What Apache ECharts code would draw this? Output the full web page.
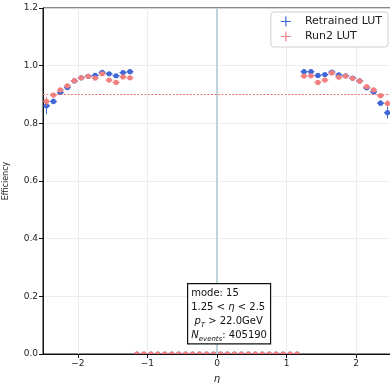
<!DOCTYPE html>
<html>
<head>
<meta charset="utf-8">
<script src="https://cdn.jsdelivr.net/npm/echarts@6/dist/echarts.min.js"></script>
<style>
  html, body { margin: 0; padding: 0; background: #fff; }
  #chart { width: 390px; height: 383px; }
</style>
</head>
<body>
<div id="chart"></div>
<script>
// eta bin centres (bin width 0.1)
const etaBins = [
  -2.45, -2.35, -2.25, -2.15, -2.05, -1.95, -1.85, -1.75, -1.65, -1.55, -1.45, -1.35, -1.25,
  -1.15, -1.05, -0.95, -0.85, -0.75, -0.65, -0.55, -0.45, -0.35, -0.25, -0.15, -0.05,
  0.05, 0.15, 0.25, 0.35, 0.45, 0.55, 0.65, 0.75, 0.85, 0.95, 1.05, 1.15,
  1.25, 1.35, 1.45, 1.55, 1.65, 1.75, 1.85, 1.95, 2.05, 2.15, 2.25, 2.35, 2.45
];
const retrainedEff = [
  0.861, 0.876, 0.907, 0.924, 0.947, 0.958, 0.963, 0.966, 0.977, 0.972, 0.965, 0.976, 0.979,
  0, 0, 0, 0, 0, 0, 0, 0, 0, 0, 0, 0,
  0, 0, 0, 0, 0, 0, 0, 0, 0, 0, 0, 0,
  0.979, 0.979, 0.966, 0.969, 0.978, 0.968, 0.965, 0.957, 0.947, 0.923, 0.909, 0.870, 0.837
];
const retrainedErr = [
  0.03, 0.01, 0.008, 0.006, 0.005, 0.005, 0.005, 0.005, 0.005, 0.005, 0.005, 0.005, 0.005,
  0, 0, 0, 0, 0, 0, 0, 0, 0, 0, 0, 0,
  0, 0, 0, 0, 0, 0, 0, 0, 0, 0, 0, 0,
  0.005, 0.005, 0.005, 0.005, 0.005, 0.005, 0.005, 0.005, 0.005, 0.006, 0.008, 0.01, 0.02
];
const run2Eff = [
  0.876, 0.898, 0.916, 0.930, 0.948, 0.958, 0.963, 0.957, 0.972, 0.950, 0.942, 0.961, 0.958,
  0, 0, 0, 0, 0, 0, 0, 0, 0, 0, 0, 0,
  0, 0, 0, 0, 0, 0, 0, 0, 0, 0, 0, 0,
  0.964, 0.965, 0.942, 0.950, 0.975, 0.960, 0.964, 0.956, 0.947, 0.927, 0.916, 0.896, 0.869
];
const run2Err = [
  0.015, 0.008, 0.006, 0.005, 0.005, 0.005, 0.005, 0.005, 0.005, 0.005, 0.005, 0.005, 0.005,
  0, 0, 0, 0, 0, 0, 0, 0, 0, 0, 0, 0,
  0, 0, 0, 0, 0, 0, 0, 0, 0, 0, 0, 0,
  0.005, 0.005, 0.005, 0.005, 0.005, 0.005, 0.005, 0.005, 0.005, 0.006, 0.006, 0.008, 0.012
];
const xTicks = [-2, -1, 0, 1, 2];
const targetEff = 0.9;
const etaZero = 0;
const binHalfWidth = 0.05;

const BLUE = "#3f67d6";
const RED = "#f08080";

const chart = echarts.init(document.getElementById("chart"));

function toRows(eff, err) {
  return etaBins.map((eta, i) => [eta, eff[i], err[i]]);
}

// marker + error bars, clipped to the plot area like matplotlib does
function errorBar(color) {
  return function (params, api) {
    const x = api.value(0), y = api.value(1), e = api.value(2);
    const c = api.coord([x, y]);
    const l = api.coord([x - binHalfWidth, y]);
    const r = api.coord([x + binHalfWidth, y]);
    const lo = api.coord([x, y - e]);
    const hi = api.coord([x, y + e]);
    const cs = params.coordSys;
    return {
      type: "group",
      clipPath: { type: "rect", shape: { x: cs.x, y: cs.y, width: cs.width, height: cs.height } },
      children: [
        { type: "line", shape: { x1: l[0], y1: l[1], x2: r[0], y2: r[1] }, style: { stroke: color, lineWidth: 1.3 } },
        { type: "line", shape: { x1: lo[0], y1: lo[1], x2: hi[0], y2: hi[1] }, style: { stroke: color, lineWidth: 1 } },
        { type: "circle", shape: { cx: c[0], cy: c[1], r: 2.6 }, style: { fill: color } },
      ],
    };
  };
}

const plusIcon = "path://M4.4,0 L5.6,0 L5.6,4.4 L10,4.4 L10,5.6 L5.6,5.6 L5.6,10 L4.4,10 L4.4,5.6 L0,5.6 L0,4.4 L4.4,4.4 Z";
const font = "DejaVu Sans";

const option = {
  animation: false,
  textStyle: { fontFamily: font },
  grid: {
    left: 43, right: -1, top: 8, bottom: 29,
    outerBoundsMode: "none",
    containLabel: false,
    show: true, borderColor: "#111", borderWidth: 1,
  },
  legend: {
    orient: "vertical",
    right: 2,
    top: 12,
    padding: [4, 6, 5, 10],
    itemGap: 4,
    itemWidth: 10,
    itemHeight: 10,
    backgroundColor: "#fff",
    borderColor: "#cfcfcf",
    borderWidth: 1,
    borderRadius: 3,
    textStyle: { fontSize: 11, color: "#222", fontFamily: font, padding: [0, 0, 0, 9] },
    data: [
      { name: "Retrained LUT", icon: plusIcon, itemStyle: { color: BLUE } },
      { name: "Run2 LUT", icon: plusIcon, itemStyle: { color: RED } },
    ],
  },
  xAxis: {
    type: "value",
    min: -2.5,
    max: 2.5,
    name: "η",
    nameLocation: "middle",
    nameGap: 20,
    nameTextStyle: { fontSize: 10, fontStyle: "italic", color: "#222" },
    axisLine: { onZero: false, lineStyle: { color: "#111", width: 1 } },
    axisTick: { show: true, length: 4, customValues: xTicks, lineStyle: { color: "#111" } },
    axisLabel: {
      customValues: xTicks,
      fontSize: 9,
      color: "#222",
      margin: 5,
      formatter: (v) => (v < 0 ? "\u2212" + Math.abs(v) : String(v)),
    },
    splitLine: { show: true, lineStyle: { color: "#e8e8e8", width: 0.8 } },
  },
  yAxis: {
    type: "value",
    min: 0,
    max: 1.2,
    interval: 0.2,
    name: "Efficiency",
    nameLocation: "middle",
    nameGap: 33,
    nameTextStyle: { fontSize: 8, color: "#222" },
    axisLine: { show: true, onZero: false, lineStyle: { color: "#111", width: 1 } },
    axisTick: { show: true, length: 4, lineStyle: { color: "#111" } },
    axisLabel: { fontSize: 9, color: "#222", margin: 5, formatter: (v) => v.toFixed(1) },
    splitLine: { show: true, lineStyle: { color: "#e8e8e8", width: 0.8 } },
  },
  series: [
    {
      name: "Retrained LUT",
      type: "custom",
      renderItem: errorBar(BLUE),
      data: toRows(retrainedEff, retrainedErr),
      z: 3,
      markLine: {
        silent: true,
        symbol: "none",
        label: { show: false },
        data: [{ xAxis: etaZero }],
        lineStyle: { color: "#b8d0da", width: 1.8, type: "solid", opacity: 1 },
      },
    },
    {
      name: "Run2 LUT",
      type: "custom",
      renderItem: errorBar(RED),
      data: toRows(run2Eff, run2Err),
      z: 4,
      markLine: {
        silent: true,
        symbol: "none",
        label: { show: false },
        data: [{ yAxis: targetEff }],
        lineStyle: { color: "#ec7a7a", width: 1, type: [2, 1.5], opacity: 1 },
      },
    },
  ],
  graphic: [
    {
      type: "text",
      left: 187,
      top: 283,
      z: 10,
      style: {
        text: [
          "mode: 15",
          "1.25 < {i|η} < 2.5",
          " {i|p}{sub|T} > 22.0GeV",
          "{i|N}{subi|events}: 405190",
        ].join("\n"),
        fontFamily: font,
        fontSize: 10,
        lineHeight: 14,
        fill: "#111",
        backgroundColor: "#fff",
        borderColor: "#111",
        borderWidth: 1.2,
        padding: [2, 3, 1, 3],
        rich: {
          i: { fontStyle: "italic", fontSize: 10, fontFamily: font, fill: "#111" },
          sub: { fontStyle: "italic", fontSize: 7, fontFamily: font, verticalAlign: "bottom", padding: [5, 0, 0, 0], lineHeight: 14 },
          subi: { fontStyle: "italic", fontSize: 7, fontFamily: font, verticalAlign: "bottom", padding: [5, 0, 0, 0], lineHeight: 14 },
        },
      },
    },
  ],
};

chart.setOption(option);
</script>
</body>
</html>
